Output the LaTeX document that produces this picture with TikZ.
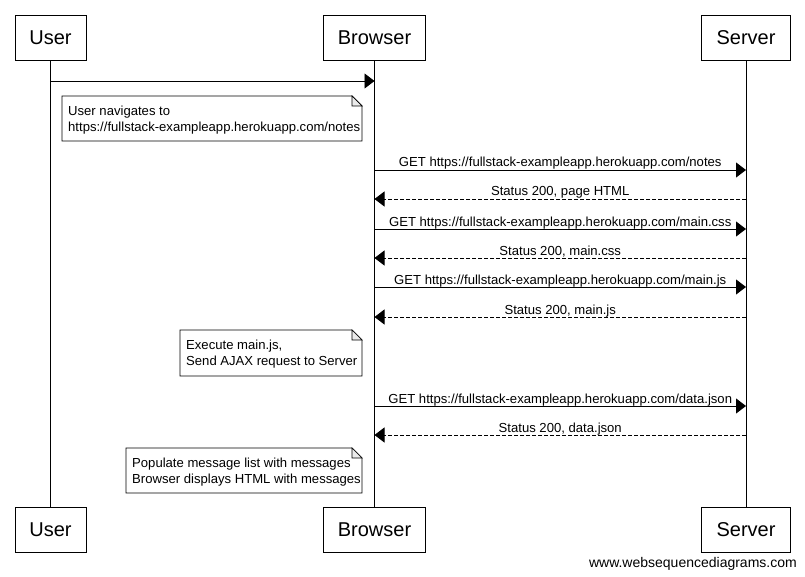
\documentclass[tikz,border=0pt]{standalone}
\usepackage{fontspec}
\setmainfont{Liberation Sans}
\usetikzlibrary{arrows.meta}
\tikzset{
  actor/.style={draw,line width=0.9pt,minimum height=45pt,inner sep=0pt,font=\fontsize{20}{24}\selectfont},
  life/.style={line width=0.9pt},
  msg/.style={line width=0.9pt,-{Triangle[length=10pt,width=15pt]}},
  reply/.style={msg,dash pattern=on 4pt off 2pt},
  lbl/.style={font=\fontsize{13.1}{15}\selectfont,inner sep=0pt,anchor=base,yshift=3pt},
  notetext/.style={font=\fontsize{13.1}{16.5}\selectfont,align=left,anchor=north west,inner sep=0pt},
}
\newcommand{\notebox}[4]{% x1,y1,x2,y2
  \draw[line width=0.9pt,fill=white] (#1,#2) -- (#3-10,#2) -- (#3,#2+10) -- (#3,#4) -- (#1,#4) -- cycle;
  \draw[line width=0.7pt,fill=black!8] (#3-10,#2) -- (#3-10,#2+10) -- (#3,#2+10) -- cycle;
}
\begin{document}
\begin{tikzpicture}[x=1pt,y=-1pt]
\useasboundingbox[fill=white] (0,0) rectangle (805,577);
% actors top
\node[actor,minimum width=71pt] (ut) at (50.5,37.5) {User};
\node[actor,minimum width=102pt] (bt) at (374.5,37.5) {Browser};
\node[actor,minimum width=89pt] (st) at (746,37.5) {Server};
% actors bottom
\node[actor,minimum width=71pt] (ub) at (50.5,529.5) {User};
\node[actor,minimum width=102pt] (bb) at (374.5,529.5) {Browser};
\node[actor,minimum width=89pt] (sb) at (746,529.5) {Server};
% lifelines
\draw[life] (ut.south) -- (ub.north);
\draw[life] (bt.south) -- (bb.north);
\draw[life] (st.south) -- (sb.north);
% coordinates on lifelines
\foreach \n/\y in {m0/81,m1/170,m2/199,m3/229,m4/258,m5/287,m6/317,m7/406,m8/435}{
  \coordinate (u\n) at (ut.south |- 0,\y);
  \coordinate (b\n) at (bt.south |- 0,\y);
  \coordinate (s\n) at (st.south |- 0,\y);
}
% messages
\draw[msg] (um0) -- (bm0);
\notebox{62}{96}{362}{141}
\node[notetext] (n1) at (68,105.5) {User navigates to\\https://fullstack-exampleapp.herokuapp.com/notes};

\draw[msg] (bm1) -- node[lbl] (l1) {GET https://fullstack-exampleapp.herokuapp.com/notes} (sm1);
\draw[reply] (sm2) -- node[lbl] (l2) {Status 200, page HTML} (bm2);
\draw[msg] (bm3) -- node[lbl] (l3) {GET https://fullstack-exampleapp.herokuapp.com/main.css} (sm3);
\draw[reply] (sm4) -- node[lbl] (l4) {Status 200, main.css} (bm4);
\draw[msg] (bm5) -- node[lbl] (l5) {GET https://fullstack-exampleapp.herokuapp.com/main.js} (sm5);
\draw[reply] (sm6) -- node[lbl] (l6) {Status 200, main.js} (bm6);

\notebox{180}{330}{362}{376}
\node[notetext] (n2) at (186,339.5) {Execute main.js,\\Send AJAX request to Server};

\draw[msg] (bm7) -- node[lbl] (l7) {GET https://fullstack-exampleapp.herokuapp.com/data.json} (sm7);
\draw[reply] (sm8) -- node[lbl] (l8) {Status 200, data.json} (bm8);

\notebox{126}{448}{362}{493}
\node[notetext] (n3) at (132,457.5) {Populate message list with messages\\Browser displays HTML with messages};

\node[font=\fontsize{14}{16}\selectfont,anchor=base east,inner sep=0pt] (wm) at (797,567) {www.websequencediagrams.com};
\end{tikzpicture}
\end{document}
